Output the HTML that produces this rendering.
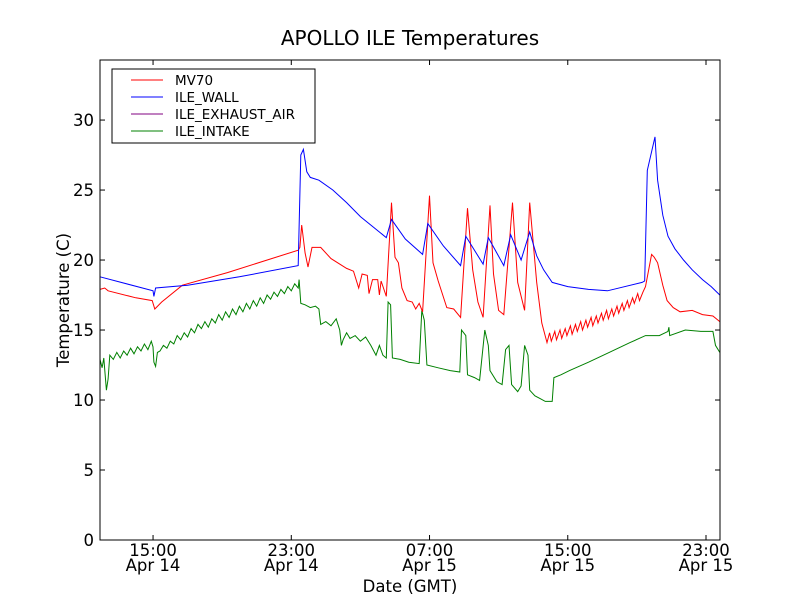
<!DOCTYPE html>
<html><head><meta charset="utf-8"><style>
body{margin:0;background:#fff}
svg{display:block;font-family:"DejaVu Sans","Liberation Sans",sans-serif}
</style></head><body>
<svg id="chart" width="800" height="600" viewBox="0 0 800 600">
<rect x="0" y="0" width="800" height="600" fill="#fff"/>
<text x="410" y="45" font-size="20" text-anchor="middle">APOLLO ILE Temperatures</text>
<g id="plot"></g>
<rect x="100" y="60" width="620" height="480" fill="none" stroke="#000" stroke-width="1"/>
<g id="axes"></g>
<text x="410" y="592" font-size="16.5" text-anchor="middle">Date (GMT)</text>
<text transform="translate(69,300) rotate(-90)" font-size="16.5" text-anchor="middle">Temperature (C)</text>
<g>
<rect x="112" y="69" width="203" height="74" fill="#fff" stroke="#000" stroke-width="1"/>
<g><line x1="131" y1="80" x2="163" y2="80" stroke="#ff0000"/><text x="175" y="85" font-size="13.5">MV70</text></g>
<g><line x1="131" y1="97" x2="163" y2="97" stroke="#0000ff"/><text x="175" y="102" font-size="13.5">ILE_WALL</text></g>
<g><line x1="131" y1="114" x2="163" y2="114" stroke="#800080"/><text x="175" y="119" font-size="13.5">ILE_EXHAUST_AIR</text></g>
<g><line x1="131" y1="131" x2="163" y2="131" stroke="#008000"/><text x="175" y="136" font-size="13.5">ILE_INTAKE</text></g>
</g>
</svg>
<script>
// hours since Apr 14 00:00 GMT
const xTickHours = [15, 23, 31, 39, 47];
const xTickTimes = ["15:00", "23:00", "07:00", "15:00", "23:00"];
const xTickDates = ["Apr 14", "Apr 14", "Apr 15", "Apr 15", "Apr 15"];
const yTicks = [0, 5, 10, 15, 20, 25, 30];
const wallTimes = [11.93,15.0,15.05,15.15,17,20,23.4,23.55,23.7,23.9,24.1,24.6,25.4,26.2,27.0,28.5,28.8,29.6,30.6,30.9,31.8,32.8,33.1,34.1,34.4,35.3,35.7,36.3,36.8,37.2,37.6,38.1,39.0,40.2,41.3,43.3,43.45,43.6,44.05,44.2,44.5,44.8,45.2,45.7,46.2,46.8,47.3,47.8];
const wallValues = [18.8,17.8,17.4,18.0,18.2,18.8,19.6,27.5,27.9,26.3,25.9,25.7,25.0,24.1,23.1,21.6,22.9,21.5,20.4,22.6,21.0,19.6,21.7,19.7,21.6,19.6,21.8,20.0,22.0,20.3,19.3,18.4,18.1,17.9,17.8,18.4,18.5,26.4,28.8,25.7,23.2,21.7,20.8,20.0,19.3,18.6,18.1,17.5];
const mvTimes = [11.93,12.2,12.4,14.0,14.95,15.1,15.5,16.7,19.3,23.4,23.5,23.6,23.8,23.97,24.2,24.7,25.3,26.2,26.6,26.9,27.1,27.4,27.5,27.7,28.0,28.1,28.2,28.5,28.8,29.0,29.2,29.4,29.7,30.0,30.2,30.4,30.6,31.0,31.2,31.5,32.0,32.4,32.8,33.2,33.5,33.8,34.1,34.5,34.7,35.0,35.3,35.8,36.1,36.5,36.8,37.2,37.5,37.8,37.95,38.05,38.25,38.35,38.55,38.65,38.85,38.95,39.15,39.25,39.45,39.55,39.75,39.85,40.05,40.15,40.35,40.45,40.65,40.75,40.95,41.05,41.25,41.35,41.55,41.65,41.85,41.95,42.15,42.25,42.45,42.55,42.75,42.85,43.05,43.15,43.35,43.5,43.85,44.0,44.2,44.5,44.75,45.1,45.5,46.2,46.8,47.4,47.8];
const mvValues = [17.9,18.0,17.8,17.3,17.1,16.5,17.0,18.2,19.1,20.7,20.9,22.5,20.5,19.5,20.9,20.9,20.1,19.4,19.2,18.0,19.0,18.9,17.6,18.6,18.6,17.5,18.5,17.4,24.1,20.2,19.8,18.0,17.1,17.0,16.5,16.9,16.3,24.6,19.8,18.5,16.6,16.5,15.9,23.7,19.3,17.0,15.9,23.9,19.0,16.4,16.1,24.1,18.4,16.4,24.1,18.4,15.5,14.1,14.8,14.2,14.9,14.3,15.0,14.4,15.1,14.6,15.3,14.7,15.4,14.9,15.6,15.0,15.7,15.2,15.9,15.3,16.0,15.5,16.2,15.7,16.4,15.8,16.5,16.0,16.7,16.2,16.9,16.4,17.1,16.6,17.3,16.9,17.6,17.1,17.7,18.1,20.4,20.2,19.8,18.2,17.1,16.6,16.3,16.4,16.1,16.0,15.6];
const intakeTimes = [11.93,12.05,12.15,12.3,12.4,12.5,12.7,12.9,13.1,13.3,13.5,13.7,13.9,14.1,14.3,14.5,14.7,14.9,15.0,15.05,15.15,15.25,15.4,15.6,15.8,16.0,16.2,16.4,16.6,16.8,17.0,17.2,17.4,17.6,17.8,18.0,18.2,18.4,18.6,18.8,19.0,19.2,19.4,19.6,19.8,20.0,20.2,20.4,20.6,20.8,21.0,21.2,21.4,21.6,21.8,22.0,22.2,22.4,22.6,22.8,23.0,23.2,23.4,23.45,23.55,23.8,24.1,24.4,24.6,24.7,25.0,25.3,25.6,25.8,25.9,26.0,26.2,26.4,26.7,27.0,27.3,27.6,27.9,28.1,28.3,28.5,28.6,28.75,28.85,29.3,29.8,30.4,30.55,30.7,30.85,31.5,32.2,32.75,32.85,33.1,33.2,33.6,33.9,34.2,34.4,34.5,34.9,35.2,35.4,35.6,35.75,36.1,36.3,36.5,36.7,36.8,37.1,37.4,37.7,38.1,38.2,38.6,39.1,40.2,41.4,42.6,43.5,44.3,44.8,44.85,44.9,45.8,46.7,47.4,47.55,47.8];
const intakeValues = [12.9,12.3,13.0,10.7,11.5,13.2,12.9,13.4,13.0,13.5,13.2,13.7,13.3,13.8,13.5,14.0,13.6,14.2,13.8,12.7,12.4,13.4,13.5,13.9,13.7,14.2,14.0,14.6,14.3,14.8,14.5,15.1,14.8,15.4,15.1,15.6,15.2,15.8,15.5,16.1,15.7,16.3,15.9,16.5,16.1,16.7,16.3,16.9,16.5,17.1,16.7,17.3,16.9,17.5,17.2,17.7,17.4,17.9,17.6,18.1,17.8,18.3,18.0,18.6,16.9,16.8,16.6,16.7,16.5,15.4,15.6,15.3,15.8,15.0,13.9,14.3,14.8,14.4,14.6,14.2,14.5,13.9,13.2,13.9,13.2,13.0,17.0,16.8,13.0,12.9,12.7,12.6,16.4,15.7,12.5,12.3,12.1,12.0,15.0,14.6,11.8,11.6,11.4,15.0,13.9,12.1,11.3,11.1,13.6,13.9,11.1,10.6,11.0,13.9,13.2,10.7,10.3,10.1,9.9,9.9,11.6,11.8,12.1,12.7,13.4,14.1,14.6,14.6,14.9,15.2,14.6,15.0,14.9,14.9,13.9,13.4];

const X0 = 100, X1 = 720, Y0 = 540, Y1 = 60;
const hMin = 11.93, hMax = 47.81, vMin = 0, vMax = 34.29;
const xs = h => X0 + (h - hMin) / (hMax - hMin) * (X1 - X0);
const ys = v => Y0 - (v - vMin) / (vMax - vMin) * (Y0 - Y1);
const NS = "http://www.w3.org/2000/svg";
const plot = document.getElementById("plot");
const axes = document.getElementById("axes");

function series(times, values, color, name) {
  const p = document.createElementNS(NS, "path");
  let d = "";
  for (let i = 0; i < times.length; i++) d += (i ? "L" : "M") + xs(times[i]).toFixed(1) + " " + ys(values[i]).toFixed(1);
  p.setAttribute("d", d);
  p.setAttribute("fill", "none");
  p.setAttribute("stroke", color);
  p.setAttribute("stroke-width", "1");
  
  
  plot.appendChild(p);
}
series(intakeTimes, intakeValues, "#008000", "ile-intake-line");
series(mvTimes, mvValues, "#ff0000", "mv70-line");
series(wallTimes, wallValues, "#0000ff", "ile-wall-line");

function line(x1, y1, x2, y2) {
  const l = document.createElementNS(NS, "line");
  l.setAttribute("x1", x1); l.setAttribute("y1", y1); l.setAttribute("x2", x2); l.setAttribute("y2", y2);
  l.setAttribute("stroke", "#000");
  
  
  axes.appendChild(l);
}
function text(x, y, s, anchor, name) {
  const t = document.createElementNS(NS, "text");
  t.setAttribute("x", x); t.setAttribute("y", y);
  t.setAttribute("font-size", "16.5");
  t.setAttribute("text-anchor", anchor);
  t.textContent = s;
  
  
  axes.appendChild(t);
}
yTicks.forEach(v => {
  const y = ys(v);
  line(X0, y, X0 + 5, y); line(X1, y, X1 - 5, y);
  text(94, y + 6, String(v), "end", "y-tick-label");
});
xTickHours.forEach((h, i) => {
  const x = xs(h);
  line(x, Y0, x, Y0 - 5); line(x, Y1, x, Y1 + 5);
  text(x, 556, xTickTimes[i], "middle", "x-tick-label");
  text(x, 571, xTickDates[i], "middle", "x-tick-date-label");
});
</script>
</body></html>
